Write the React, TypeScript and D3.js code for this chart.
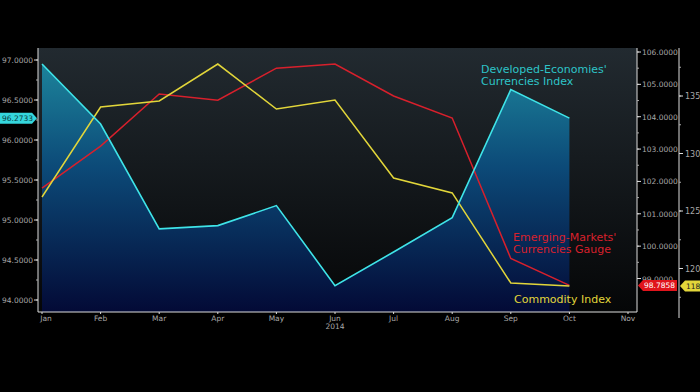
import * as d3 from 'd3';

const months = ['Jan', 'Feb', 'Mar', 'Apr', 'May', 'Jun', 'Jul', 'Aug', 'Sep', 'Oct', 'Nov'];
const developed = [96.95, 96.2, 94.89, 94.93, 95.18, 94.18, 94.6, 95.03, 96.63, 96.2733];
const emerging = [101.79, 103.09, 104.7, 104.51, 105.5, 105.63, 104.64, 103.96, 99.62, 98.7858];
const commodity = [126.22, 134.04, 134.57, 137.78, 133.87, 134.65, 127.87, 126.57, 118.74, 118.48];
const leftTicks = [94, 94.5, 95, 95.5, 96, 96.5, 97];
const midTicks = [99, 100, 101, 102, 103, 104, 105, 106];
const rightTicks = [120, 125, 130, 135];

const W = 700;
const H = 392;
const left = 38;
const mid = 637;
const right = 679;
const top = 48;
const bottom = 312;
const font = '"DejaVu Sans", sans-serif';

export default function App() {
  const x = d3.scalePoint<string>().domain(months).range([42, 628]);
  const yL = d3.scaleLinear().domain([94, 97]).range([300, 60]);
  const yM = d3.scaleLinear().domain([99, 106]).range([278.5, 52]);
  const yR = d3.scaleLinear().domain([120, 135]).range([268.5, 96]);

  const px = (_: number, i: number) => x(months[i]) as number;
  const devLine = d3.line<number>().x(px).y((d) => yL(d));
  const devArea = d3.area<number>().x(px).y0(bottom).y1((d) => yL(d));
  const emLine = d3.line<number>().x(px).y((d) => yM(d));
  const coLine = d3.line<number>().x(px).y((d) => yR(d));

  const minorL = d3.range(94, 97.01, 0.25);
  const minorM = d3.range(99, 106.01, 0.5);
  const minorR = d3.range(117.5, 137.6, 2.5);

  const lastDev = developed[developed.length - 1];
  const lastEm = emerging[emerging.length - 1];
  const lastCo = commodity[commodity.length - 1];

  return (
    <svg width={W} height={H} style={{ position: 'absolute', left: 0, top: 0, background: '#000' }}>
      <defs>
        <linearGradient id="bg" x1="0" y1="0" x2="0" y2="1">
          <stop offset="0%" stopColor="#222a30" />
          <stop offset="100%" stopColor="#050607" />
        </linearGradient>
        <linearGradient id="area" x1="0" y1={top} x2="0" y2={bottom} gradientUnits="userSpaceOnUse">
          <stop offset="0%" stopColor="#1f8ca0" />
          <stop offset="45%" stopColor="#0c4a78" />
          <stop offset="100%" stopColor="#030a36" />
        </linearGradient>
      </defs>
      <rect x={0} y={0} width={W} height={H} fill="#000" />
      <rect x={left} y={top} width={mid - left} height={bottom - top} fill="url(#bg)" />
      <path d={devArea(developed) ?? ''} fill="url(#area)" />

      <path d={emLine(emerging) ?? ''} fill="none" stroke="#d8202c" strokeWidth={1.5} />
      <path d={coLine(commodity) ?? ''} fill="none" stroke="#e2d63a" strokeWidth={1.5} />
      <path d={devLine(developed) ?? ''} fill="none" stroke="#3fe4e8" strokeWidth={1.6} />

      {/* left axis */}
      <line x1={left} x2={left} y1={top} y2={bottom} stroke="#ddd" strokeWidth={1} />
      {minorL.map((t) => (
        <line key={t} x1={left - 2} x2={left} y1={yL(t)} y2={yL(t)} stroke="#aaa" />
      ))}
      {leftTicks.map((t) => (
        <g key={t}>
          <line x1={left - 4} x2={left} y1={yL(t)} y2={yL(t)} stroke="#ddd" />
          <text x={left - 5} y={yL(t) + 3} fill="#a8a8a8" fontSize={7.5} fontFamily={font} textAnchor="end">
            {t.toFixed(4)}
          </text>
        </g>
      ))}

      {/* bottom axis */}
      <line x1={left} x2={mid} y1={bottom} y2={bottom} stroke="#ddd" />
      {months.map((m) => (
        <g key={m}>
          <line x1={x(m)} x2={x(m)} y1={bottom} y2={bottom + 2} stroke="#ddd" />
          <text
            x={Math.max(x(m) as number, left + 8)}
            y={bottom + 8.5}
            fill="#a8a8a8"
            fontSize={7.5}
            fontFamily={font}
            textAnchor="middle"
          >
            {m}
          </text>
        </g>
      ))}
      <text x={x('Jun')} y={bottom + 16.5} fill="#a8a8a8" fontSize={7.5} fontFamily={font} textAnchor="middle">
        2014
      </text>

      {/* middle axis */}
      <line x1={mid} x2={mid} y1={top} y2={bottom} stroke="#ddd" />
      {minorM.map((t) => (
        <line key={t} x1={mid} x2={mid + 2} y1={yM(t)} y2={yM(t)} stroke="#aaa" />
      ))}
      {midTicks.map((t) => (
        <g key={t}>
          <line x1={mid} x2={mid + 4} y1={yM(t)} y2={yM(t)} stroke="#ddd" />
          <text x={mid + 5} y={yM(t) + 3} fill="#a8a8a8" fontSize={7.5} fontFamily={font}>
            {t.toFixed(4)}
          </text>
        </g>
      ))}

      {/* right axis */}
      <line x1={right} x2={right} y1={top} y2={318} stroke="#ddd" />
      {minorR.map((t) => (
        <line key={t} x1={right} x2={right + 2} y1={yR(t)} y2={yR(t)} stroke="#aaa" />
      ))}
      {rightTicks.map((t) => (
        <g key={t}>
          <line x1={right} x2={right + 4} y1={yR(t)} y2={yR(t)} stroke="#ddd" />
          <text x={right + 6} y={yR(t) + 3} fill="#a8a8a8" fontSize={8} fontFamily={font}>
            {t}
          </text>
        </g>
      ))}

      {/* last value tags */}
      <g transform={`translate(0,${yL(lastDev)})`}>
        <path d="M0,-5.5 H32 L37,0 L32,5.5 H0 Z" fill="#35d6dc" />
        <text x={2} y={3} fill="#0a3a40" fontSize={7.5} fontFamily={font}>
          {lastDev.toFixed(4)}
        </text>
      </g>
      <g transform={`translate(${mid},${yM(lastEm)})`}>
        <path d="M1,0 L6,-5.5 H40 V5.5 H6 Z" fill="#e0141c" />
        <text x={7} y={3} fill="#fff" fontSize={7.5} fontFamily={font}>
          {lastEm.toFixed(4)}
        </text>
      </g>
      <g transform={`translate(${right},${yR(lastCo)})`}>
        <path d="M1,0 L6,-5.5 H30 V5.5 H6 Z" fill="#e2d63a" />
        <text x={7} y={3} fill="#222" fontSize={7.5} fontFamily={font}>
          {lastCo.toFixed(2)}
        </text>
      </g>

      {/* series labels */}
      <text x={481} y={73} fill="#2ec4c8" fontSize={11} fontFamily={font}>
        <tspan x={481}>Developed-Economies'</tspan>
        <tspan x={481} dy={12}>Currencies Index</tspan>
      </text>
      <text x={513} y={241} fill="#d8202c" fontSize={11} fontFamily={font}>
        <tspan x={513}>Emerging-Markets'</tspan>
        <tspan x={513} dy={12}>Currencies Gauge</tspan>
      </text>
      <text x={514} y={303} fill="#e2d63a" fontSize={11} fontFamily={font}>
        Commodity Index
      </text>
    </svg>
  );
}
